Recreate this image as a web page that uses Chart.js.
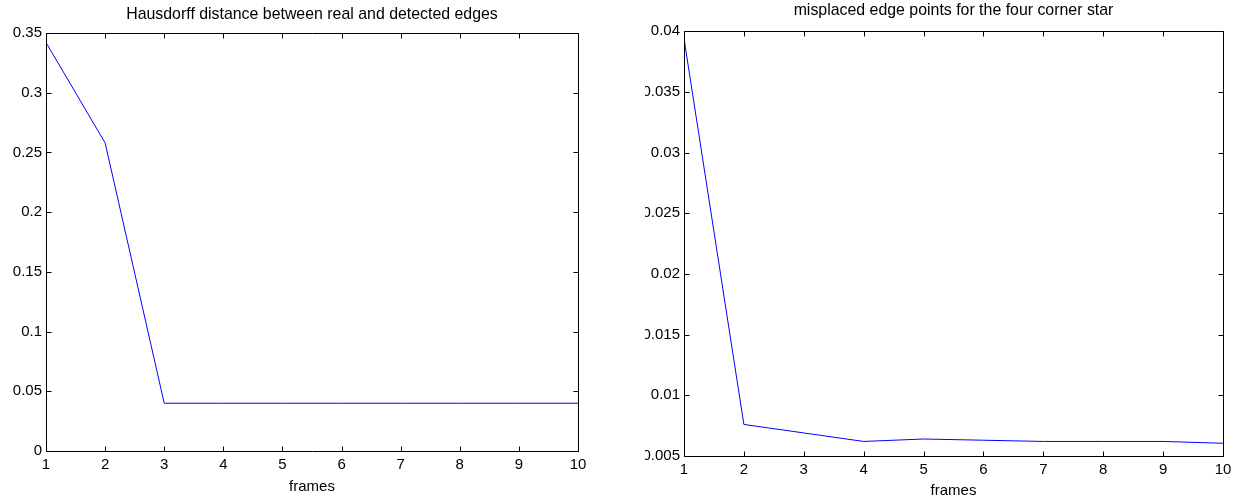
<!DOCTYPE html>
<html>
<head>
<meta charset="utf-8">
<script src="https://cdn.jsdelivr.net/npm/chart.js@4/dist/chart.umd.min.js"></script>
<style>
  html, body { margin: 0; padding: 0; background: #fff; }
  body { width: 1242px; height: 499px; position: relative; overflow: hidden; }
  #wrapL { position: absolute; left: 0; top: 0; width: 621px; height: 499px; }
  #wrapR { position: absolute; left: 645px; top: 0; width: 597px; height: 499px; }
</style>
</head>
<body>
<div id="wrapL"><canvas id="left"></canvas></div>
<div id="wrapR"><canvas id="right"></canvas></div>
<script>
// ---- data ----
const frames = [1, 2, 3, 4, 5, 6, 7, 8, 9, 10];
const hausdorff = [0.342, 0.258, 0.04, 0.04, 0.04, 0.04, 0.04, 0.04, 0.04, 0.04];
const misplaced = [0.0394, 0.0076, 0.0069, 0.0062, 0.0064, 0.0063, 0.0062, 0.0062, 0.0062, 0.00605];
const xTicks = [1, 2, 3, 4, 5, 6, 7, 8, 9, 10];
const yTicksLeft = [0, 0.05, 0.1, 0.15, 0.2, 0.25, 0.3, 0.35];
const yTicksRight = [0.005, 0.01, 0.015, 0.02, 0.025, 0.03, 0.035, 0.04];
const titleLeft = 'Hausdorff distance between real and detected edges';
const titleRight = 'misplaced edge points for the four corner star';
const xLabel = 'frames';

Chart.defaults.color = '#000';
Chart.defaults.font.family = '"Liberation Sans", Arial, Helvetica, sans-serif';

const FONT = 15;
const TITLE_FONT = 15.9;

const boxTicks = {
  id: 'boxTicks',
  afterDraw(chart) {
    const {ctx, chartArea: a, scales} = chart;
    const L = Math.round(a.left) + 0.5, R = Math.round(a.right) + 0.5;
    const T = Math.round(a.top) + 0.5, B = Math.round(a.bottom) + 0.5;
    const tl = 5;
    ctx.save();
    ctx.strokeStyle = '#000';
    ctx.lineWidth = 1;
    ctx.beginPath();
    ctx.rect(L, T, R - L, B - T);
    scales.x.ticks.forEach(t => {
      const px = Math.round(scales.x.getPixelForValue(t.value)) + 0.5;
      ctx.moveTo(px, B); ctx.lineTo(px, B - tl);
      ctx.moveTo(px, T); ctx.lineTo(px, T + tl);
    });
    scales.y.ticks.forEach(t => {
      const py = Math.round(scales.y.getPixelForValue(t.value)) + 0.5;
      ctx.moveTo(L, py); ctx.lineTo(L + tl, py);
      ctx.moveTo(R, py); ctx.lineTo(R - tl, py);
    });
    ctx.stroke();
    ctx.restore();
  }
};

function fmt(v) { return String(+(+v).toFixed(5)); }

function makeChart(id, values, yTicks, title, opts) {
  const pts = frames.map((f, i) => ({x: f, y: values[i]}));
  return new Chart(document.getElementById(id), {
    type: 'line',
    data: { datasets: [{ data: pts, borderColor: '#0000ff', borderWidth: 1, pointRadius: 0, tension: 0, fill: false }] },
    options: {
      responsive: true,
      maintainAspectRatio: false,
      animation: false,
      layout: { padding: { left: 0, right: opts.padRight, top: 0, bottom: 0 } },
      plugins: {
        legend: { display: false },
        tooltip: { enabled: false },
        title: { display: false }
      },
      scales: {
        x: {
          type: 'linear', min: 1, max: 10,
          afterBuildTicks: s => { s.ticks = xTicks.map(v => ({value: v})); },
          afterFit: s => { s.height = opts.xHeight; },
          grid: { display: false, drawTicks: false },
          border: { display: false },
          ticks: { font: { size: FONT, lineHeight: 1 }, padding: 6.5, maxRotation: 0, autoSkip: false, callback: v => fmt(v) },
          title: { display: true, text: xLabel, font: { size: FONT, lineHeight: 1 }, padding: { top: 0, bottom: opts.xTitleBottom } }
        },
        xTop: {
          type: 'linear', position: 'top', min: 1, max: 10,
          afterFit: s => { s.height = opts.topHeight; },
          grid: { display: false, drawTicks: false },
          border: { display: false },
          ticks: { display: false },
          title: { display: true, text: title, color: '#000', font: { size: TITLE_FONT, lineHeight: 1 }, padding: { top: opts.titleTop, bottom: 0 } }
        },
        y: {
          type: 'linear', min: yTicks[0], max: yTicks[yTicks.length - 1],
          afterBuildTicks: s => { s.ticks = yTicks.map(v => ({value: v})); },
          afterFit: s => { s.width = opts.yWidth; },
          grid: { display: false, drawTicks: false },
          border: { display: false },
          ticks: { font: { size: FONT, lineHeight: 1 }, padding: 4, autoSkip: false, callback: v => fmt(v) }
        }
      }
    },
    plugins: [boxTicks]
  });
}

makeChart('left', hausdorff, yTicksLeft, titleLeft,
  { padRight: 43, titleTop: 6.5, topHeight: 33, xHeight: 48, xTitleBottom: 4.5, yWidth: 46 });
makeChart('right', misplaced, yTicksRight, titleRight,
  { padRight: 19, titleTop: 3, topHeight: 31.3, xHeight: 43, xTitleBottom: 1, yWidth: 39 });
</script>
</body>
</html>
